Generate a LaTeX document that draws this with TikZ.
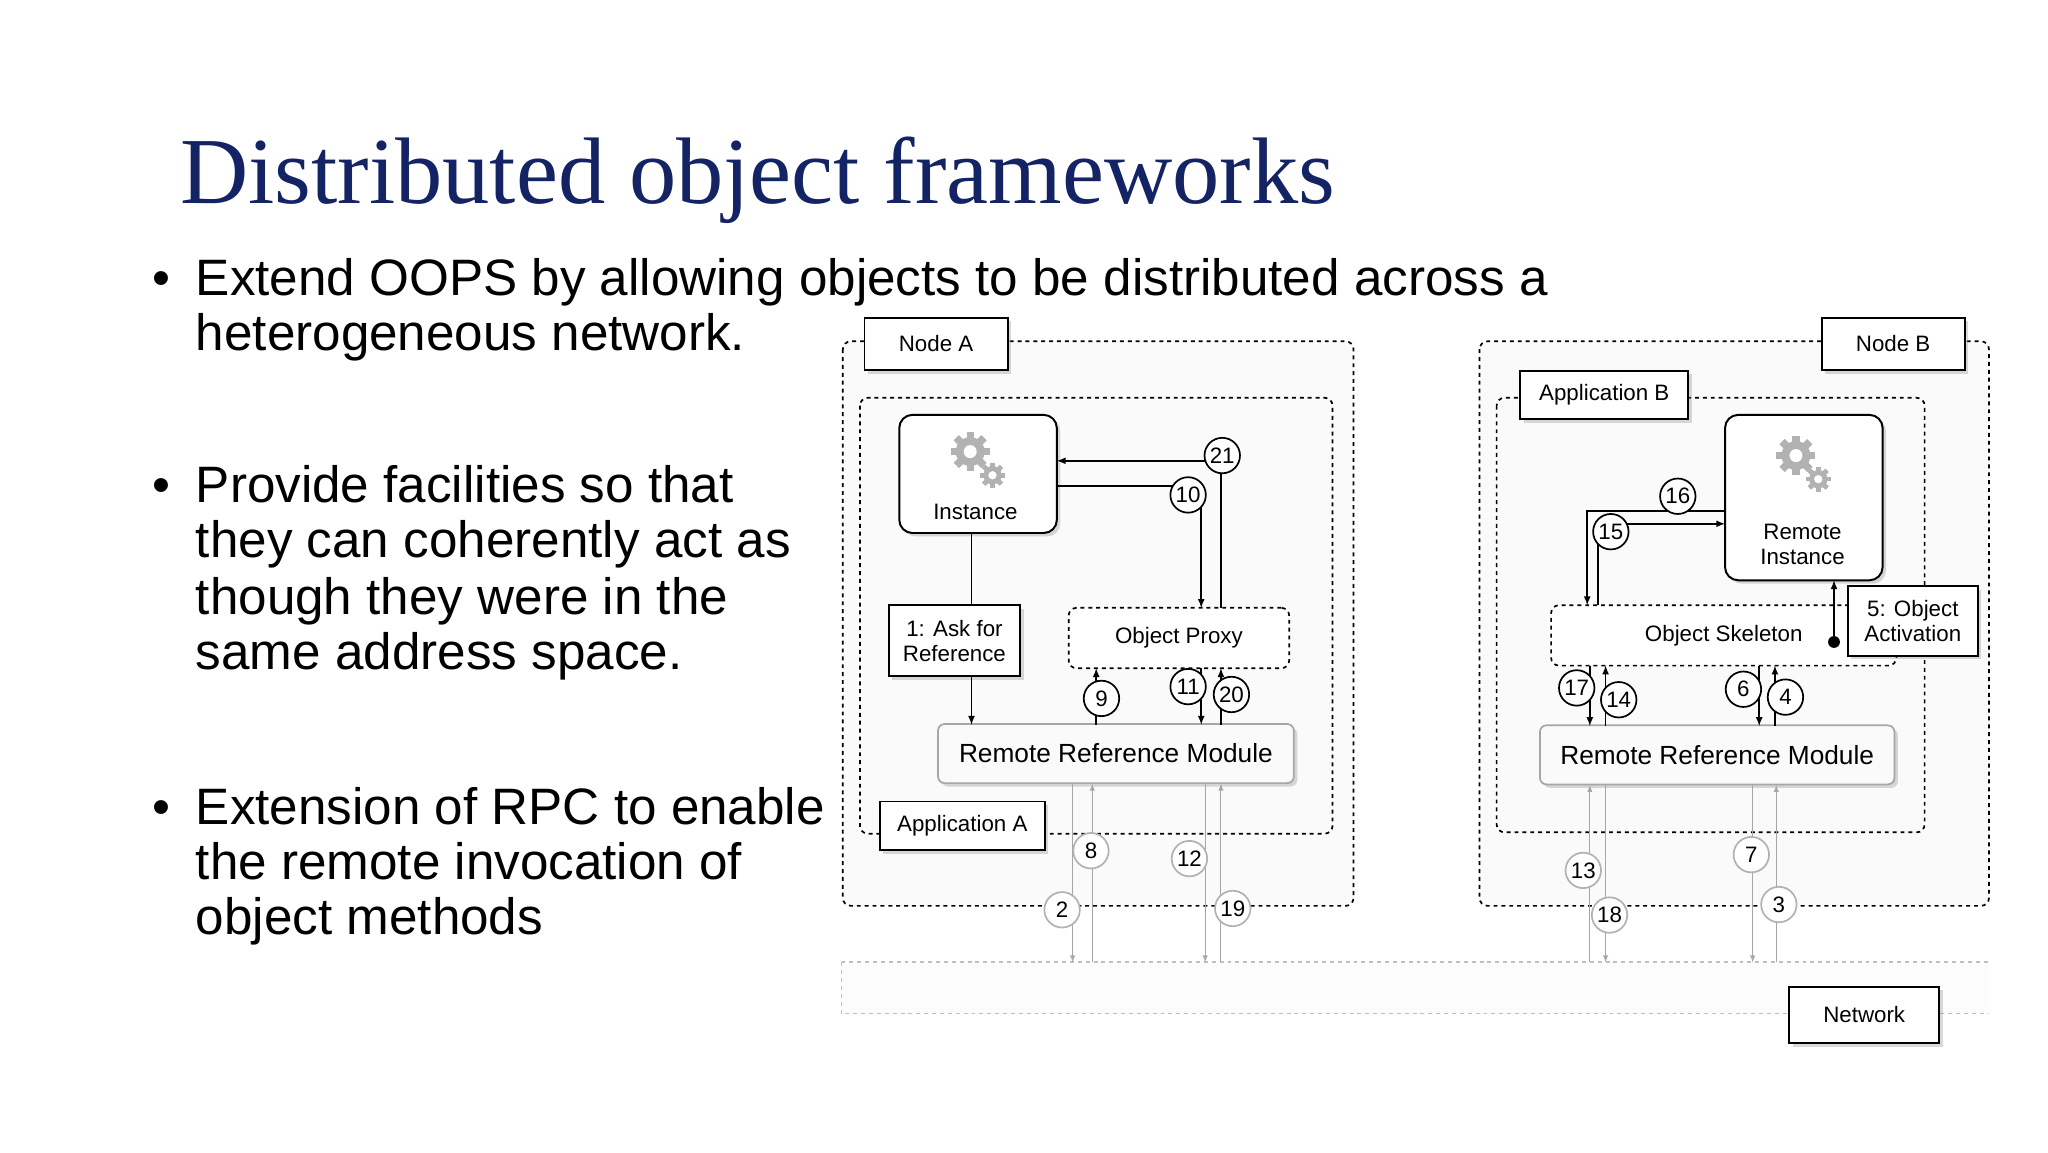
\documentclass[tikz,border=0pt]{standalone}
\usepackage{fontspec}
\setmainfont{Liberation Sans}
\newfontfamily\titlefont{Liberation Serif}
\usetikzlibrary{positioning,shadows}
\definecolor{titleblue}{RGB}{20,35,100}
\definecolor{boxgray}{RGB}{250,250,250}

\newcommand{\gearicon}[3]{% x, y, radius
  \fill[gray!60] (#1,#2) circle (#3);
  \foreach \a in {0,45,...,315}
    \fill[gray!60,rotate around={\a:(#1,#2)}] (#1-0.25*#3,#2-1.35*#3) rectangle (#1+0.25*#3,#2+1.35*#3);
  \fill[white] (#1,#2) circle (0.45*#3);
}

\begin{document}
\begin{tikzpicture}[x=1pt,y=-1pt,
  txt/.style={font=\fontsize{17}{19}\selectfont},
  tag/.style={draw,line width=1.5pt,fill=white,txt,drop shadow={opacity=0.3},align=center,inner sep=0pt},
  zone/.style={draw,line width=1.3pt,dashed,rounded corners=6pt,fill=black!2},
  module/.style={draw=gray!70,line width=1.3pt,fill=boxgray,rounded corners=5pt,drop shadow={opacity=0.3},font=\fontsize{20}{22}\selectfont},
  num/.style={draw,line width=1.3pt,circle,fill=white,minimum size=27pt,inner sep=0pt,txt},
  gnum/.style={num,draw=gray!60},
  arr/.style={line width=1.3pt,-latex},
  garr/.style={thick,draw=gray!70,-latex},
  bul/.style={anchor=base west,font=\fontsize{39}{42}\selectfont}]
\useasboundingbox (0,0) rectangle (1560,878);

% title and bullets
\node[anchor=base west,text=titleblue,font=\titlefont\fontsize{72}{80}\selectfont,inner sep=0pt] (title) at (137,155) {Distributed object frameworks};
\foreach \y/\t in {225/Extend OOPS by allowing objects to be distributed across a,267/heterogeneous network.,
                   383/Provide facilities so that,425/they can coherently act as,468/though they were in the,510/same address space.,
                   628/Extension of RPC to enable,670/the remote invocation of,712/object methods}
  \node[bul,inner sep=0pt] at (149,\y) {\t};
\foreach \y in {225,383,628}
  \node[bul,inner sep=0pt] at (116,\y) {\textbullet};

% zones
\fill[black!1] (641,733) rectangle (1515,772);
\draw[line width=1.3pt,dashed,draw=gray!50] (641,733) -- (641,772) -- (1515,772);
\draw[line width=1.3pt,dashed,draw=gray!50] (641,733) -- (1515,733);
\draw[zone] (642,260) rectangle (1031,690);
\draw[zone] (655,303) rectangle (1015,635);
\draw[zone] (1127,260) rectangle (1515,690);
\draw[zone] (1140,303) rectangle (1466,634);

% labels
\node[tag,minimum width=109pt,minimum height=40pt] (nodeA) at (713,262) {Node A};
\node[tag,minimum width=126pt,minimum height=37pt] (appA) at (733,629) {Application A};
\node[tag,minimum width=109pt,minimum height=40pt] (nodeB) at (1442,262) {Node B};
\node[tag,minimum width=128pt,minimum height=37pt] (appB) at (1222,301) {Application B};
\node[tag,minimum width=114pt,minimum height=43pt] (network) at (1420,773) {Network};

% node A
\node[draw,line width=1.5pt,fill=white,rounded corners=10pt,minimum width=120pt,minimum height=90pt,drop shadow={opacity=0.3}] (inst) at (745,361) {};
\gearicon{739}{344}{11}
\gearicon{756}{362}{7}
\node[txt] (instL) at (743,390) {Instance};
\node[tag,minimum width=100pt,minimum height=54pt] (ask) at (727,488) {1: Ask for\\Reference};
\node[draw,line width=1.3pt,dashed,fill=white,rounded corners=6pt,minimum width=168pt,minimum height=46pt,txt] (proxy) at (898,486) {Object Proxy};
\node[module,minimum width=271pt,minimum height=45pt] (rrmA) at (850,574) {Remote Reference Module};

\draw[arr] (931,351) -- (805,351);
\draw[line width=1.3pt] (930,463) -- (930,351);
\draw[arr] (805,370) -- (915,370) -- (915,463);
\draw[line width=1.3pt] (740,406) -- (740,461);
\draw[arr] (740,515) -- (740,552);
\draw[arr] (835,552) -- (835,509);
\draw[arr] (915,509) -- (915,552);
\draw[arr] (930,552) -- (930,509);
\draw[garr] (817,597) -- (817,733);
\draw[garr] (832,733) -- (832,597);
\draw[garr] (918,597) -- (918,733);
\draw[garr] (930,733) -- (930,597);

\node[num] (n21) at (931,347) {21};
\node[num] (n10) at (905,377) {10};
\node[num] (n9) at (839,532) {9};
\node[num] (n11) at (905,523) {11};
\node[num] (n20) at (938,529) {20};
\node[gnum] (n8) at (831,648) {8};
\node[gnum] (n12) at (906,654) {12};
\node[gnum] (n2) at (809,693) {2};
\node[gnum] (n19) at (939,692) {19};

% node B
\node[draw,line width=1.5pt,fill=white,rounded corners=10pt,minimum width=120pt,minimum height=126pt,drop shadow={opacity=0.3}] (rinst) at (1374,379) {};
\gearicon{1368}{347}{11}
\gearicon{1385}{365}{7}
\node[txt,align=center] (rinstL) at (1373,415) {Remote\\Instance};
\node[draw,line width=1.3pt,dashed,fill=white,rounded corners=6pt,minimum width=263pt,minimum height=46pt,txt] (skel) at (1313,484) {Object Skeleton};
\node[tag,minimum width=99pt,minimum height=53pt] (act) at (1457,473) {5: Object\\Activation};
\node[module,minimum width=270pt,minimum height=45pt] (rrmB) at (1308,575) {Remote Reference Module};

\draw[arr] (1314,389) -- (1209,389) -- (1209,461);
\draw[arr] (1217,461) -- (1217,399) -- (1314,399);
\fill (1397,489) circle (4.5pt);
\draw[arr] (1397,489) -- (1397,442);
\draw[arr] (1211,507) -- (1211,553);
\draw[arr] (1223,553) -- (1223,507);
\draw[arr] (1340,507) -- (1340,553);
\draw[arr] (1352,553) -- (1352,507);
\draw[garr] (1211,733) -- (1211,598);
\draw[garr] (1223,598) -- (1223,733);
\draw[garr] (1335,598) -- (1335,733);
\draw[garr] (1353,733) -- (1353,598);

\node[num] (n16) at (1278,378) {16};
\node[num] (n15) at (1227,405) {15};
\node[num] (n17) at (1201,524) {17};
\node[num] (n14) at (1233,533) {14};
\node[num] (n6) at (1328,525) {6};
\node[num] (n4) at (1360,531) {4};
\node[gnum] (n13) at (1206,663) {13};
\node[gnum] (n18) at (1226,697) {18};
\node[gnum] (n7) at (1334,651) {7};
\node[gnum] (n3) at (1355,689) {3};
\end{tikzpicture}
\end{document}
